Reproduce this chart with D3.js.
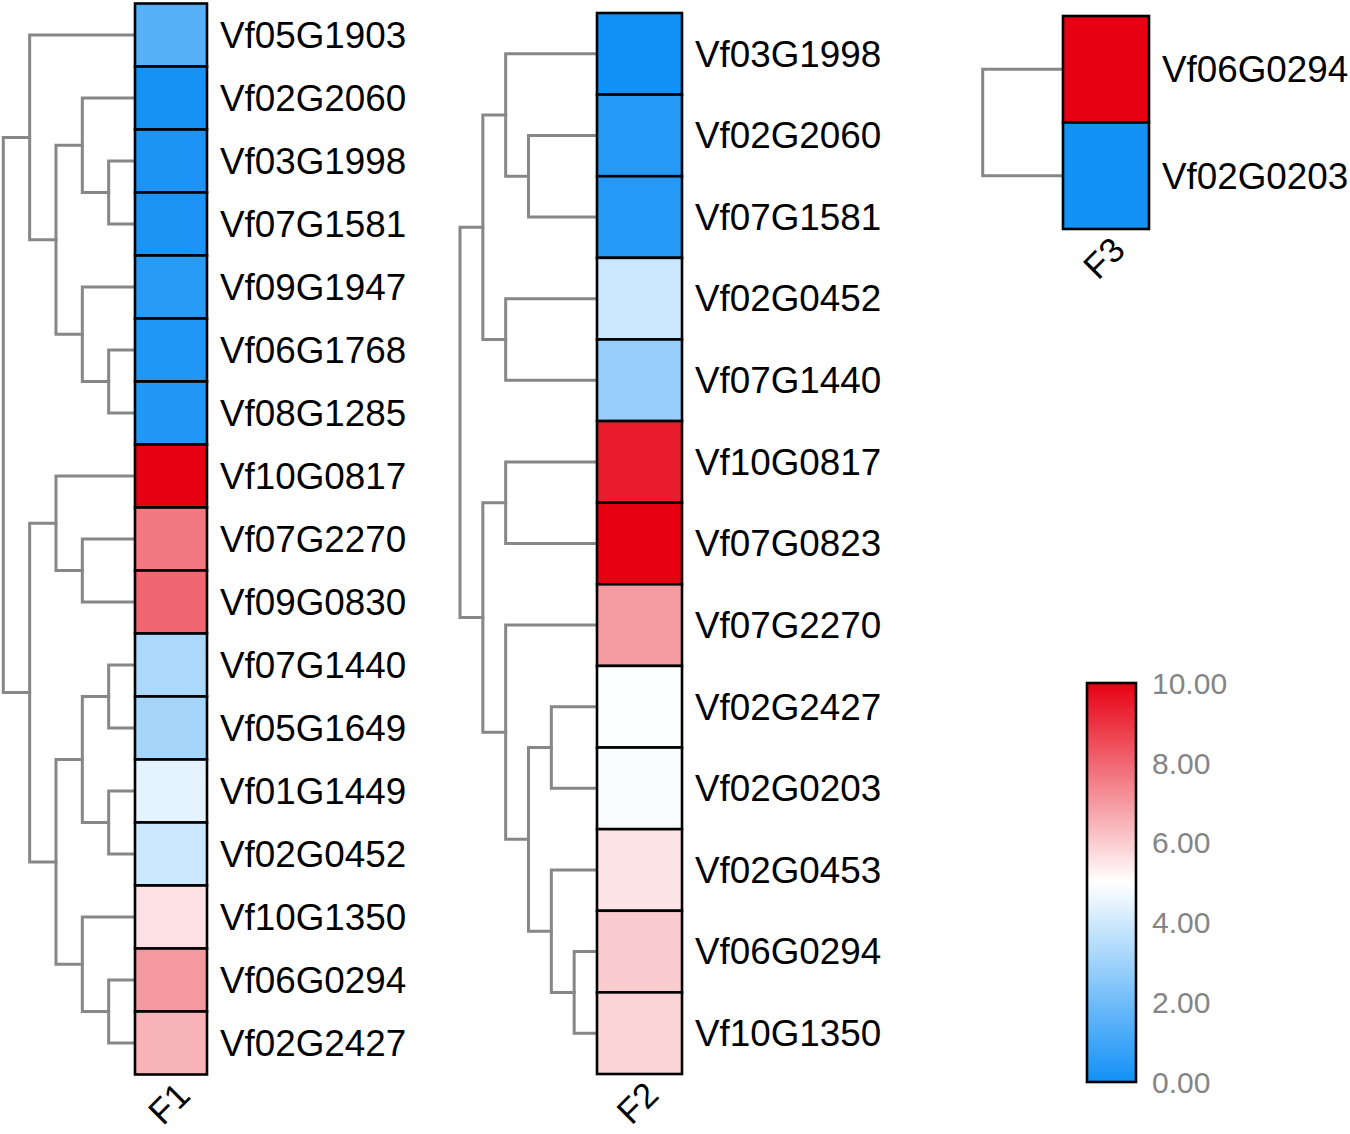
<!DOCTYPE html>
<html><head><meta charset="utf-8">
<script src="https://cdn.jsdelivr.net/npm/d3@7"></script>
<style>body{margin:0;background:#fff}svg{display:block}</style>
</head><body>
<svg id="chart" width="1350" height="1134"></svg>
<script>
// ---------- DATA ----------
const f1Genes = ["Vf05G1903","Vf02G2060","Vf03G1998","Vf07G1581","Vf09G1947","Vf06G1768","Vf08G1285","Vf10G0817","Vf07G2270","Vf09G0830","Vf07G1440","Vf05G1649","Vf01G1449","Vf02G0452","Vf10G1350","Vf06G0294","Vf02G2427"];
const f1Values = [1.5,0.1,0.2,0.2,0.5,0.3,0.35,10,7.65,8.0,3.25,3.1,4.45,3.9,5.6,7.0,6.5];
// hclust-style merges: negative = leaf (1-based), positive = earlier merge (1-based)
const f1Merge = [[-3,-4],[-2,1],[-6,-7],[-5,3],[2,4],[-1,5],[-9,-10],[-8,7],[-11,-12],[-13,-14],[9,10],[-16,-17],[-15,12],[11,13],[8,14],[6,15]];
const f1Heights = [1,2,1,2,3,4,2,3,1,1,2,1,2,3,4,5];

const f2Genes = ["Vf03G1998","Vf02G2060","Vf07G1581","Vf02G0452","Vf07G1440","Vf10G0817","Vf07G0823","Vf07G2270","Vf02G2427","Vf02G0203","Vf02G0453","Vf06G0294","Vf10G1350"];
const f2Values = [0.0,0.4,0.4,3.9,2.8,9.45,10,6.95,4.98,4.85,5.55,6.0,5.85];
const f2Merge = [[-2,-3],[-1,1],[-4,-5],[2,3],[-6,-7],[-9,-10],[-12,-13],[-11,7],[6,8],[-8,9],[5,10],[4,11]];
const f2Heights = [3,4,4,5,4,2,1,2,3,4,5,6];

const f3Genes = ["Vf06G0294","Vf02G0203"];
const f3Values = [10,0.05];
const f3Merge = [[-1,-2]];
const f3Heights = [1];

const panelNames = ["F1","F2","F3"];
const legendTicks = [0,2,4,6,8,10];
const colorStops = [0,5,10];
const colorRange = ["#1190f5","#ffffff","#e60012"];

// ---------- LAYOUT ----------
const svg = d3.select("#chart");
const color = d3.scaleLinear().domain(colorStops).range(colorRange).interpolate(d3.interpolateRgb);
const FONT = "Liberation Sans, Arial, sans-serif";

const panels = [
  {name: panelNames[0], genes: f1Genes, values: f1Values, merge: f1Merge, heights: f1Heights,
   x0: 135, x1: 207, y0: 3.5, y1: 1074.5, rootX: 3.3, clipX: null},
  {name: panelNames[1], genes: f2Genes, values: f2Values, merge: f2Merge, heights: f2Heights,
   x0: 597, x1: 682, y0: 13, y1: 1074, rootX: 460, clipX: 883},
  {name: panelNames[2], genes: f3Genes, values: f3Values, merge: f3Merge, heights: f3Heights,
   x0: 1063, x1: 1149, y0: 16, y1: 229, rootX: 982.7, clipX: null}
];

const defs = svg.append("defs");

panels.forEach((p, pi) => {
  const g = svg.append("g");
  const yBand = d3.scaleBand().domain(p.genes).range([p.y0, p.y1]).padding(0);
  const xH = d3.scaleLinear().domain([0, d3.max(p.heights)]).range([p.x0, p.rootX]);

  // dendrogram
  const nodeY = [], nodeX = [];
  const pos = ref => ref < 0
    ? {x: p.x0, y: yBand(p.genes[-ref - 1]) + yBand.bandwidth() / 2}
    : {x: nodeX[ref - 1], y: nodeY[ref - 1]};
  const segs = [];
  p.merge.forEach((m, i) => {
    const a = pos(m[0]), b = pos(m[1]);
    const x = xH(p.heights[i]);
    nodeX[i] = x; nodeY[i] = (a.y + b.y) / 2;
    segs.push(`M${a.x},${a.y}H${x}V${b.y}H${b.x}`);
  });
  g.append("g").selectAll("path").data(segs).join("path")
    .attr("d", d => d).attr("fill", "none")
    .attr("stroke", "#878787").attr("stroke-width", 3)
    .attr("stroke-linejoin", "miter").attr("stroke-linecap", "square");

  // cells
  g.append("g").selectAll("rect").data(p.genes).join("rect")
    .attr("x", p.x0).attr("width", p.x1 - p.x0)
    .attr("y", d => yBand(d)).attr("height", yBand.bandwidth())
    .attr("fill", (d, i) => color(p.values[i]))
    .attr("stroke", "#000").attr("stroke-width", 2.6);

  // labels
  const lg = g.append("g");
  if (p.clipX) {
    const id = "clip" + pi;
    defs.append("clipPath").attr("id", id).append("rect")
      .attr("x", p.x1).attr("y", 0).attr("width", p.clipX - p.x1).attr("height", 1134);
    lg.attr("clip-path", `url(#${id})`);
  }
  lg.selectAll("text").data(p.genes).join("text")
    .attr("x", p.x1 + 13)
    .attr("y", d => yBand(d) + yBand.bandwidth() / 2 + 12.8)
    .attr("font-family", FONT)
    .attr("font-size", 36.8).attr("fill", "#000")
    .text(d => d);

  // column label
  const cx = (p.x0 + p.x1) / 2;
  g.append("text")
    .attr("transform", `translate(${cx + 21},${p.y1 + 23}) rotate(-45)`)
    .attr("text-anchor", "end")
    .attr("font-family", FONT)
    .attr("font-size", 35).attr("fill", "#000")
    .text(p.name);
});

// ---------- LEGEND ----------
const lx0 = 1087, lx1 = 1136, ly0 = 683, ly1 = 1082;
const lScale = d3.scaleLinear().domain([0, 10]).range([ly1, ly0]);
const grad = defs.append("linearGradient").attr("id", "lgrad")
  .attr("x1", 0).attr("y1", 1).attr("x2", 0).attr("y2", 0);
grad.selectAll("stop").data(d3.range(0, 10.01, 0.5)).join("stop")
  .attr("offset", d => d / 10).attr("stop-color", d => color(d));
svg.append("rect").attr("x", lx0).attr("y", ly0).attr("width", lx1 - lx0).attr("height", ly1 - ly0)
  .attr("fill", "url(#lgrad)").attr("stroke", "#000").attr("stroke-width", 2.6);
svg.append("g").selectAll("text").data(legendTicks).join("text")
  .attr("x", 1152).attr("y", d => lScale(d) + 10.8)
  .attr("font-family", FONT)
  .attr("font-size", 30).attr("fill", "#858585")
  .text(d => d3.format(".2f")(d));
</script>
</body></html>
